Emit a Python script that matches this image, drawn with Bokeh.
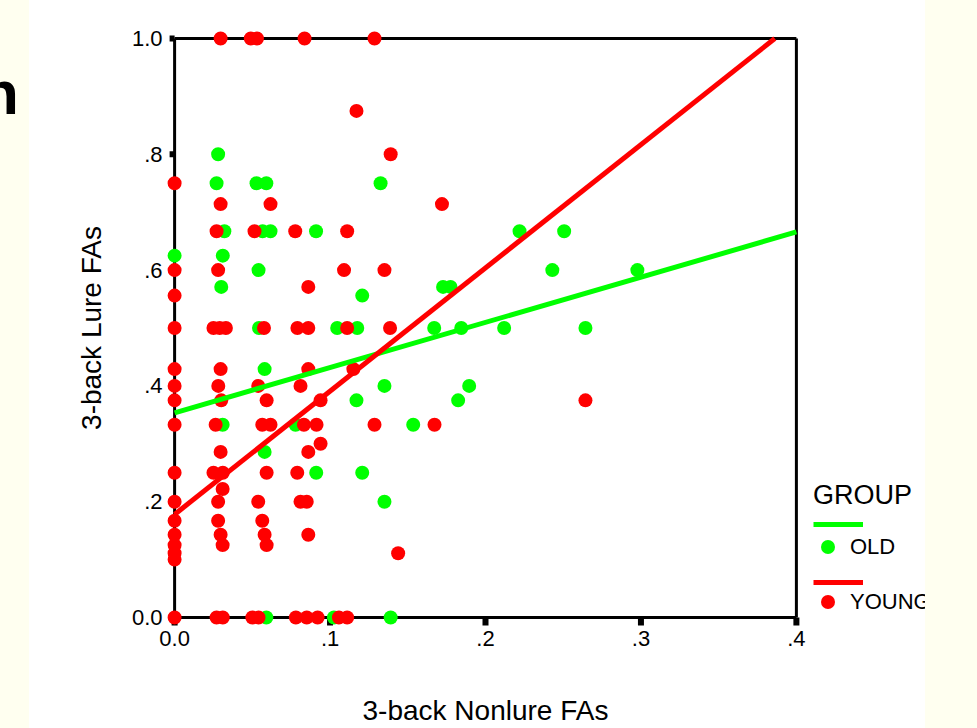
import math
from bokeh.plotting import figure
from bokeh.models import (LinearAxis, FixedTicker, Range1d, Legend, LegendItem,
                          Div, Grid)
from bokeh.layouts import row
from bokeh.core.properties import value
from bokeh.embed import file_html
from bokeh.resources import INLINE

# ---------------- data ----------------
old_x = [0.028, 0.027, 0.0527, 0.059, 0.1325, 0.032, 0.0566, 0.0617, 0.091,
         0.0, 0.031, 0.054, 0.030, 0.1207, 0.1727, 0.1775, 0.2219, 0.2506,
         0.243, 0.2977, 0.167, 0.1844, 0.212, 0.2643, 0.1895, 0.1824, 0.1535,
         0.0543, 0.1046, 0.1175, 0.0579, 0.135, 0.117, 0.0309, 0.0778, 0.0579,
         0.0911, 0.1207, 0.135, 0.059, 0.1025, 0.139]
old_y = [0.8, 0.75, 0.75, 0.75, 0.75, 0.667, 0.667, 0.667, 0.667,
         0.625, 0.625, 0.6, 0.571, 0.556, 0.571, 0.571, 0.667, 0.667,
         0.6, 0.6, 0.5, 0.5, 0.5, 0.5, 0.4, 0.375, 0.333,
         0.5, 0.5, 0.5, 0.429, 0.4, 0.375, 0.333, 0.333, 0.286,
         0.25, 0.25, 0.2, 0.0, 0.0, 0.0]

young_x = [0.0296, 0.049, 0.053, 0.0836, 0.1286,
           0.117, 0.139,
           0.0,
           0.0296, 0.0617, 0.172,
           0.027, 0.0514, 0.0776, 0.111,
           0.0, 0.028, 0.109, 0.135,
           0.086,
           0.0,
           0.0, 0.025, 0.029, 0.033, 0.0575, 0.079, 0.086, 0.111, 0.1386,
           0.0, 0.0296, 0.086, 0.115,
           0.0, 0.0281, 0.0538, 0.081,
           0.0, 0.030, 0.0592, 0.0939, 0.2643,
           0.0, 0.0264, 0.0564, 0.0617, 0.0832, 0.0913, 0.1286, 0.1672,
           0.0939,
           0.0296, 0.086,
           0.0, 0.025, 0.031, 0.0592, 0.0789,
           0.0309,
           0.0, 0.028, 0.0538, 0.081, 0.085,
           0.0, 0.028, 0.0564,
           0.0, 0.0296, 0.0579, 0.086,
           0.0, 0.0309, 0.0592,
           0.0, 0.1438,
           0.0,
           0.0, 0.027, 0.031, 0.050, 0.054, 0.078, 0.085, 0.092, 0.1057, 0.111]
young_y = [1.0, 1.0, 1.0, 1.0, 1.0,
           0.875, 0.8,
           0.75,
           0.714, 0.714, 0.714,
           0.667, 0.667, 0.667, 0.667,
           0.6, 0.6, 0.6, 0.6,
           0.571,
           0.556,
           0.5, 0.5, 0.5, 0.5, 0.5, 0.5, 0.5, 0.5, 0.5,
           0.429, 0.429, 0.429, 0.429,
           0.4, 0.4, 0.4, 0.4,
           0.375, 0.375, 0.375, 0.375, 0.375,
           0.333, 0.333, 0.333, 0.333, 0.333, 0.333, 0.333, 0.333,
           0.3,
           0.286, 0.286,
           0.25, 0.25, 0.25, 0.25, 0.25,
           0.222,
           0.2, 0.2, 0.2, 0.2, 0.2,
           0.167, 0.167, 0.167,
           0.143, 0.143, 0.143, 0.143,
           0.125, 0.125, 0.125,
           0.111, 0.111,
           0.1,
           0.0, 0.0, 0.0, 0.0, 0.0, 0.0, 0.0, 0.0, 0.0, 0.0]

# fitted regression lines (intercept, slope)
old_fit = (0.3535, 0.781)
young_fit = (0.178, 2.129)

x_ticks = [0.0, 0.1, 0.2, 0.3, 0.4]
x_tick_labels = ["0.0", ".1", ".2", ".3", ".4"]
y_ticks = [0.0, 0.2, 0.4, 0.6, 0.8, 1.0]
y_tick_labels = ["0.0", ".2", ".4", ".6", ".8", "1.0"]
x_label = "3-back Nonlure FAs"
y_label = "3-back Lure FAs"
legend_title = "GROUP"
group_names = ["OLD", "YOUNG"]

# ---------------- styling ----------------
FONT = "Liberation Sans"
GREEN = "#00FF00"
RED = "#FF0000"
CREAM = "#FFFFF0"
H = 728
x_lo, x_hi = x_ticks[0], x_ticks[-1]
y_lo, y_hi = y_ticks[0], y_ticks[-1]

# frame padded a little so that marks lying on the axes are not cut
p = figure(width=777, height=H,
           x_range=Range1d(-0.0065, 0.4065), y_range=Range1d(-0.0173, 1.0173),
           x_axis_location=None, y_axis_location=None,
           toolbar_location=None, output_backend="svg",
           min_border_left=135, min_border_right=0,
           min_border_top=28, min_border_bottom=101,
           background_fill_color="white", border_fill_color="white",
           outline_line_color=None, margin=0)
p.title.visible = False
p.center = [r for r in p.center if not isinstance(r, Grid)]


def style_axis(ax):
    ax.axis_line_color = None
    ax.major_tick_line_color = None
    ax.minor_tick_line_color = None
    ax.major_tick_in = 0
    ax.major_tick_out = 0
    ax.major_label_text_font = FONT
    ax.major_label_text_font_size = "22px"
    ax.major_label_text_color = "black"
    ax.axis_label_text_font = FONT
    ax.axis_label_text_font_size = "28px"
    ax.axis_label_text_font_style = "normal"
    ax.axis_label_text_color = "black"


left_ax = LinearAxis(ticker=FixedTicker(ticks=y_ticks),
                     major_label_overrides=dict(zip(y_ticks, y_tick_labels)),
                     axis_label=y_label)
style_axis(left_ax)
left_ax.major_label_standoff = 2
left_ax.axis_label_standoff = 22
p.add_layout(left_ax, "left")

bottom_ax = LinearAxis(ticker=FixedTicker(ticks=x_ticks),
                       major_label_overrides=dict(zip(x_ticks, x_tick_labels)),
                       axis_label=x_label)
style_axis(bottom_ax)
bottom_ax.major_label_standoff = 3
bottom_ax.axis_label_standoff = 46
p.add_layout(bottom_ax, "below")

# box around the data area (axes lines) and square tick marks
p.multi_line(xs=[[x_lo, x_lo], [x_lo, x_hi], [x_lo, x_hi], [x_hi, x_hi]],
             ys=[[y_lo, y_hi], [y_lo, y_lo], [y_hi, y_hi], [y_lo, y_hi]],
             line_color="black", line_width=3)
p.ray(x=[x_lo] * len(y_ticks), y=y_ticks, length=5, angle=math.pi,
      length_units="screen", line_color="black", line_width=6, line_cap="butt")
p.ray(x=x_ticks, y=[y_lo] * len(x_ticks), length=8, angle=-math.pi / 2,
      length_units="screen", line_color="black", line_width=6, line_cap="butt")

# points
p.scatter(old_x, old_y, size=14, fill_color=GREEN, line_color=None)
p.scatter(young_x, young_y, size=14, fill_color=RED, line_color=None)

# fit lines
ob, om = old_fit
yb, ym = young_fit
p.line([x_lo, x_hi], [ob + om * x_lo, ob + om * x_hi],
       line_color=GREEN, line_width=5)
young_x_end = (y_hi - yb) / ym
p.line([x_lo, young_x_end], [yb + ym * x_lo, y_hi],
       line_color=RED, line_width=5)

# ---------------- legend panel (right of the plot box) ----------------
lg = figure(width=119, height=H, x_range=Range1d(0, 1), y_range=Range1d(0, 1),
            x_axis_location=None, y_axis_location=None,
            toolbar_location=None, output_backend="svg",
            min_border=0, background_fill_color="white",
            border_fill_color="white", outline_line_color=None, margin=0)
lg.title.visible = False
lg.center = [r for r in lg.center if not isinstance(r, Grid)]
# swatch renderers: their own data lies outside the visible range
sw_old_line = lg.line([-3, -2], [-3, -3], line_color=GREEN, line_width=5)
sw_young_line = lg.line([-3, -2], [-3, -3], line_color=RED, line_width=5)
sw_old_pt = lg.scatter([-3], [-3], fill_color=GREEN, line_color=None)
sw_young_pt = lg.scatter([-3], [-3], fill_color=RED, line_color=None)

leg_lines = Legend(items=[LegendItem(label=value(""), renderers=[sw_old_line]),
                          LegendItem(label=value(""), renderers=[sw_young_line])],
                   location=(7, 35), title=legend_title,
                   title_text_font=FONT, title_text_font_size="27px",
                   title_text_font_style="normal", title_text_color="black",
                   title_standoff=3,
                   glyph_width=50, glyph_height=20, label_width=0, label_height=20,
                   label_standoff=0, spacing=38, padding=0, margin=0,
                   label_text_font_size="10px",
                   background_fill_alpha=0, border_line_alpha=0)
lg.add_layout(leg_lines)

leg_pts = Legend(items=[LegendItem(label=value(group_names[0]), renderers=[sw_old_pt]),
                        LegendItem(label=value(group_names[1]), renderers=[sw_young_pt])],
                 location=(4, 8),
                 glyph_width=35, glyph_height=35, label_standoff=5, spacing=20,
                 padding=0, margin=0,
                 label_text_font=FONT, label_text_font_size="22px",
                 label_text_color="black",
                 background_fill_alpha=0, border_line_alpha=0)
lg.add_layout(leg_pts)

# ---------------- slide background strips ----------------
left_div = Div(text=('<div style="position:relative;left:-19px;top:62px;'
                     'font-family:\'Liberation Sans\',Arial,sans-serif;font-weight:bold;'
                     'font-size:62px;line-height:62px;color:black;">n</div>'),
               width=29, height=H, margin=0,
               styles={"background-color": CREAM, "overflow": "visible"})
right_div = Div(text="", width=52, height=H, margin=0,
                styles={"background-color": CREAM})

layout = row(left_div, p, lg, right_div)

open("out.html", "w").write(file_html(layout, INLINE))
